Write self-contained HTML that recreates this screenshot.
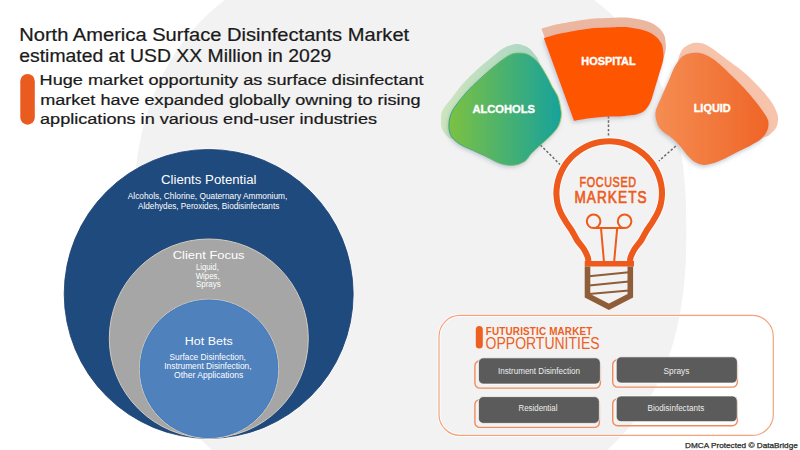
<!DOCTYPE html>
<html><head><meta charset="utf-8"><style>
html,body{margin:0;padding:0;background:#fff;width:800px;height:450px;overflow:hidden}
svg{display:block}
text{font-family:"Liberation Sans", sans-serif}
</style></head><body>
<svg width="800" height="450" viewBox="0 0 800 450" font-family='"Liberation Sans", sans-serif'>
<defs>
<linearGradient id="galc" x1="0" x2="1" y1="0" y2="0"><stop offset="0" stop-color="#7cc142"/><stop offset="1" stop-color="#17a29c"/></linearGradient>
<linearGradient id="galcr" x1="0" x2="1" y1="0" y2="0"><stop offset="0" stop-color="#1c9c8c"/><stop offset="1" stop-color="#a8cf4a"/></linearGradient>
<linearGradient id="galcg" x1="0" x2="1" y1="0" y2="0"><stop offset="0" stop-color="#cde5bd"/><stop offset="1" stop-color="#a9d5c6"/></linearGradient>
<linearGradient id="gliq" x1="0" x2="1" y1="0" y2="0"><stop offset="0" stop-color="#f58d52"/><stop offset="1" stop-color="#ef6527"/></linearGradient>
<filter id="sh" x="-20%" y="-20%" width="140%" height="140%"><feGaussianBlur in="SourceAlpha" stdDeviation="2"/><feOffset dx="-1" dy="2" result="b"/><feFlood flood-color="#7f8fa0" flood-opacity="0.45"/><feComposite in2="b" operator="in"/><feMerge><feMergeNode/><feMergeNode in="SourceGraphic"/></feMerge></filter>
</defs>
<rect width="800" height="450" fill="#ffffff"/>
<path d="M686.3,230.3 L686.2,243.9 L686.0,254.5 L685.6,264.2 L685.0,273.3 L684.3,282.0 L683.5,290.4 L682.4,298.5 L681.3,306.4 L679.9,314.1 L678.4,321.6 L676.8,328.9 L675.0,336.1 L673.1,343.1 L671.0,349.9 L668.7,356.6 L666.3,363.2 L663.7,369.6 L661.0,375.9 L658.2,382.0 L655.2,388.0 L652.0,393.9 L648.7,399.6 L645.2,405.2 L641.7,410.6 L637.9,416.0 L634.0,421.2 L630.0,426.2 L625.9,431.1 L621.6,435.9 L617.1,440.5 L612.5,445.0 L607.8,449.4 L603.0,453.6 L598.0,457.7 L592.9,461.6 L587.6,465.4 L582.2,469.0 L576.7,472.5 L571.0,475.9 L565.2,479.1 L559.3,482.1 L553.2,485.0 L547.0,487.7 L540.7,490.3 L534.2,492.8 L527.6,495.1 L520.9,497.2 L514.0,499.2 L506.9,501.0 L499.7,502.7 L492.3,504.2 L484.7,505.5 L476.9,506.7 L468.9,507.7 L460.6,508.6 L452.0,509.3 L443.0,509.9 L433.4,510.3 L423.0,510.5 L409.5,510.6 L396.0,510.5 L385.6,510.3 L376.0,509.9 L367.0,509.3 L358.4,508.6 L350.1,507.7 L342.1,506.7 L334.3,505.5 L326.7,504.2 L319.3,502.7 L312.1,501.0 L305.0,499.2 L298.1,497.2 L291.4,495.1 L284.8,492.8 L278.3,490.3 L272.0,487.7 L265.8,485.0 L259.7,482.1 L253.8,479.1 L248.0,475.9 L242.3,472.5 L236.8,469.0 L231.4,465.4 L226.1,461.6 L221.0,457.7 L216.0,453.6 L211.2,449.4 L206.5,445.0 L201.9,440.5 L197.4,435.9 L193.1,431.1 L189.0,426.2 L185.0,421.2 L181.1,416.0 L177.3,410.6 L173.8,405.2 L170.3,399.6 L167.0,393.9 L163.8,388.0 L160.8,382.0 L158.0,375.9 L155.3,369.6 L152.7,363.2 L150.3,356.6 L148.0,349.9 L145.9,343.1 L144.0,336.1 L142.2,328.9 L140.6,321.6 L139.1,314.1 L137.7,306.4 L136.6,298.5 L135.5,290.4 L134.7,282.0 L134.0,273.3 L133.4,264.2 L133.0,254.5 L132.8,243.9 L132.7,230.3 L132.8,216.7 L133.0,206.1 L133.4,196.4 L134.0,187.3 L134.7,178.6 L135.5,170.2 L136.6,162.1 L137.7,154.2 L139.1,146.5 L140.6,139.0 L142.2,131.7 L144.0,124.5 L145.9,117.5 L148.0,110.7 L150.3,104.0 L152.7,97.4 L155.3,91.0 L158.0,84.7 L160.8,78.6 L163.8,72.6 L167.0,66.7 L170.3,61.0 L173.8,55.4 L177.3,50.0 L181.1,44.6 L185.0,39.4 L189.0,34.4 L193.1,29.5 L197.4,24.7 L201.9,20.1 L206.5,15.6 L211.2,11.2 L216.0,7.0 L221.0,2.9 L226.1,-1.0 L231.4,-4.8 L236.8,-8.4 L242.3,-11.9 L248.0,-15.3 L253.8,-18.5 L259.7,-21.5 L265.8,-24.4 L272.0,-27.1 L278.3,-29.7 L284.8,-32.2 L291.4,-34.5 L298.1,-36.6 L305.0,-38.6 L312.1,-40.4 L319.3,-42.1 L326.7,-43.6 L334.3,-44.9 L342.1,-46.1 L350.1,-47.1 L358.4,-48.0 L367.0,-48.7 L376.0,-49.3 L385.6,-49.7 L396.0,-49.9 L409.5,-50.0 L423.0,-49.9 L433.4,-49.7 L443.0,-49.3 L452.0,-48.7 L460.6,-48.0 L468.9,-47.1 L476.9,-46.1 L484.7,-44.9 L492.3,-43.6 L499.7,-42.1 L506.9,-40.4 L514.0,-38.6 L520.9,-36.6 L527.6,-34.5 L534.2,-32.2 L540.7,-29.7 L547.0,-27.1 L553.2,-24.4 L559.3,-21.5 L565.2,-18.5 L571.0,-15.3 L576.7,-11.9 L582.2,-8.4 L587.6,-4.8 L592.9,-1.0 L598.0,2.9 L603.0,7.0 L607.8,11.2 L612.5,15.6 L617.1,20.1 L621.6,24.7 L625.9,29.5 L630.0,34.4 L634.0,39.4 L637.9,44.6 L641.7,50.0 L645.2,55.4 L648.7,61.0 L652.0,66.7 L655.2,72.6 L658.2,78.6 L661.0,84.7 L663.7,91.0 L666.3,97.4 L668.7,104.0 L671.0,110.7 L673.1,117.5 L675.0,124.5 L676.8,131.7 L678.4,139.0 L679.9,146.5 L681.3,154.2 L682.4,162.1 L683.5,170.2 L684.3,178.6 L685.0,187.3 L685.6,196.4 L686.0,206.1 L686.2,216.7 Z" fill="#f2f2f2"/>
<circle cx="208.7" cy="293.9" r="145.6" fill="#ffffff"/><circle cx="208.7" cy="293.9" r="144.5" fill="#1f4a7d" stroke="#183f72" stroke-width="0.8"/>
<circle cx="208.8" cy="338.5" r="99.5" fill="#a6a6a6" stroke="#d4cbbd" stroke-width="1"/>
<circle cx="209" cy="368.8" r="69.6" fill="#4f81bd" stroke="#cfc6b6" stroke-width="1"/><circle cx="209" cy="368.8" r="68.7" fill="none" stroke="#3f7cc8" stroke-width="0.8"/>
<rect x="20.3" y="74" width="14.5" height="50.7" rx="7.25" fill="#ea5b1f"/>
<g stroke="#6a6a6a" stroke-width="1.5" stroke-dasharray="2.4,1.9" fill="none">
<line x1="540.4" y1="145" x2="560" y2="164.5"/>
<line x1="608.5" y1="116" x2="608.5" y2="137"/>
<line x1="675.8" y1="146" x2="658.9" y2="161"/>
</g>
<path d="M513.3,44.4 C516.6,43.8 519.4,44.2 522.2,45.0 C525.0,45.8 527.8,47.1 530.0,48.9 C532.2,50.7 534.1,53.4 535.6,55.6 C537.1,57.8 537.9,57.9 539.0,62.0 C540.1,66.1 544.3,71.2 542.0,80.0 C539.7,88.8 533.7,105.8 525.0,115.0 C516.3,124.2 501.5,131.0 490.0,135.0 C478.5,139.0 463.1,138.8 456.0,139.0 C448.9,139.2 449.8,138.2 447.5,136.5 C445.2,134.8 443.1,131.6 442.0,129.0 C440.9,126.4 440.9,124.1 441.0,121.0 C441.1,117.9 440.6,114.5 442.5,110.5 C444.4,106.5 449.2,101.2 452.7,96.7 C456.2,92.2 459.3,87.8 463.3,83.3 C467.3,78.8 472.1,74.2 476.7,70.0 C481.3,65.8 486.9,61.3 491.1,57.8 C495.4,54.3 498.5,51.1 502.2,48.9 C505.9,46.7 510.0,45.0 513.3,44.4 Z" fill="url(#galcg)"/>
<path d="M518.9,53.1 C521.5,53.0 524.3,53.1 526.7,53.9 C529.1,54.7 531.3,56.2 533.3,57.8 C535.3,59.4 537.2,61.3 538.9,63.3 C540.6,65.3 541.8,67.6 543.3,70.0 C544.8,72.4 546.3,75.0 547.8,77.8 C549.3,80.6 550.5,83.6 552.2,86.7 C553.9,89.8 556.4,92.8 557.8,96.3 C559.2,99.8 560.0,104.4 560.6,107.7 C561.2,111.0 561.5,113.2 561.2,116.2 C560.9,119.2 559.9,122.9 558.7,125.6 C557.5,128.3 556.0,129.8 554.0,132.2 C552.0,134.6 548.9,137.4 546.4,139.8 C543.9,142.2 541.4,144.1 538.9,146.4 C536.4,148.7 533.3,151.4 531.3,153.6 C529.3,155.8 528.2,158.2 526.7,159.7 C525.2,161.2 523.7,161.9 522.0,162.7 C520.3,163.5 518.7,164.3 516.7,164.7 C514.7,165.1 512.2,165.4 510.0,165.3 C507.8,165.2 505.5,164.9 503.3,164.3 C501.1,163.8 499.2,163.1 496.7,162.0 C494.1,160.9 491.9,159.4 488.0,157.5 C484.1,155.6 477.6,152.6 473.3,150.6 C469.0,148.6 465.5,147.5 462.2,145.6 C458.9,143.7 455.4,141.3 453.3,138.9 C451.2,136.5 450.1,134.0 449.4,131.1 C448.7,128.2 448.8,124.5 449.1,121.5 C449.4,118.5 450.2,116.0 451.3,113.3 C452.4,110.6 453.4,108.8 456.0,105.3 C458.6,101.8 462.8,96.3 466.7,92.0 C470.6,87.7 475.2,83.3 479.3,79.5 C483.4,75.7 487.3,72.2 491.1,68.9 C494.9,65.7 498.9,62.4 502.2,60.0 C505.5,57.6 508.3,55.5 511.1,54.4 C513.9,53.2 516.3,53.2 518.9,53.1 Z" fill="url(#galc)" filter="url(#sh)"/><path d="M518.9,53.1 C521.5,53.0 524.3,53.1 526.7,53.9 C529.1,54.7 531.3,56.2 533.3,57.8 C535.3,59.4 537.2,61.3 538.9,63.3 C540.6,65.3 541.8,67.6 543.3,70.0 C544.8,72.4 546.3,75.0 547.8,77.8 C549.3,80.6 550.5,83.6 552.2,86.7 C553.9,89.8 556.4,92.8 557.8,96.3 C559.2,99.8 560.0,104.4 560.6,107.7 C561.2,111.0 561.5,113.2 561.2,116.2 C560.9,119.2 559.9,122.9 558.7,125.6 C557.5,128.3 556.0,129.8 554.0,132.2 C552.0,134.6 548.9,137.4 546.4,139.8 C543.9,142.2 541.4,144.1 538.9,146.4 C536.4,148.7 533.3,151.4 531.3,153.6 C529.3,155.8 528.2,158.2 526.7,159.7 C525.2,161.2 523.7,161.9 522.0,162.7 C520.3,163.5 518.7,164.3 516.7,164.7 C514.7,165.1 512.2,165.4 510.0,165.3 C507.8,165.2 505.5,164.9 503.3,164.3 C501.1,163.8 499.2,163.1 496.7,162.0 C494.1,160.9 491.9,159.4 488.0,157.5 C484.1,155.6 477.6,152.6 473.3,150.6 C469.0,148.6 465.5,147.5 462.2,145.6 C458.9,143.7 455.4,141.3 453.3,138.9 C451.2,136.5 450.1,134.0 449.4,131.1 C448.7,128.2 448.8,124.5 449.1,121.5 C449.4,118.5 450.2,116.0 451.3,113.3 C452.4,110.6 453.4,108.8 456.0,105.3 C458.6,101.8 462.8,96.3 466.7,92.0 C470.6,87.7 475.2,83.3 479.3,79.5 C483.4,75.7 487.3,72.2 491.1,68.9 C494.9,65.7 498.9,62.4 502.2,60.0 C505.5,57.6 508.3,55.5 511.1,54.4 C513.9,53.2 516.3,53.2 518.9,53.1 Z" fill="none" stroke="url(#galcr)" stroke-width="0.8"/>
<path d="M541.5,29.1 C542.0,28.9 541.2,28.7 544.2,27.8 C547.3,26.9 552.8,25.2 560.0,23.8 C567.3,22.4 578.5,20.2 587.7,19.2 C597.0,18.2 608.3,18.0 615.5,17.8 C622.7,17.6 625.6,17.4 631.1,18.1 C636.6,18.8 643.9,20.3 648.4,21.8 C653.0,23.3 655.6,25.2 658.1,27.2 C660.7,29.2 662.4,31.6 663.6,33.8 C664.8,36.0 665.1,37.7 665.4,40.5 C665.7,43.3 666.3,46.4 665.6,50.5 C664.9,54.6 662.7,60.2 661.2,65.0 C659.8,69.8 658.1,75.1 656.8,79.4 C655.4,83.7 654.2,88.1 653.0,91.0 C651.9,93.9 651.3,94.9 650.0,96.7 C648.7,98.5 647.3,100.5 645.4,101.8 C643.5,103.1 641.3,104.0 638.7,104.7 C636.1,105.4 632.7,105.7 629.7,106.1 C626.7,106.5 624.1,106.7 620.7,106.9 C617.3,107.1 614.4,106.8 609.2,107.1 C604.0,107.4 595.2,108.1 589.5,108.8 C583.8,109.5 577.7,110.6 574.9,111.1 C572.1,111.5 573.2,111.4 572.8,111.5 Z" fill="#ecb7a0"/>
<path d="M543.9,38.6 C544.3,38.4 543.5,38.2 546.5,37.3 C549.5,36.4 554.7,34.7 561.7,33.3 C568.7,31.9 579.4,29.7 588.3,28.7 C597.2,27.7 608.0,27.5 615.0,27.3 C622.0,27.1 624.7,26.9 630.0,27.6 C635.3,28.3 642.4,29.8 646.7,31.3 C651.0,32.8 653.6,34.7 656.0,36.7 C658.4,38.7 660.1,41.1 661.3,43.3 C662.5,45.5 662.7,47.2 663.0,50.0 C663.3,52.8 663.9,55.9 663.2,60.0 C662.5,64.1 660.4,69.7 659.0,74.5 C657.6,79.3 656.0,84.6 654.7,88.9 C653.4,93.2 652.2,97.6 651.1,100.5 C650.0,103.4 649.4,104.4 648.2,106.2 C647.0,108.0 645.6,110.0 643.8,111.3 C642.0,112.6 639.8,113.5 637.3,114.2 C634.8,114.9 631.6,115.2 628.7,115.6 C625.8,116.0 623.3,116.2 620.0,116.4 C616.7,116.6 614.0,116.3 609.0,116.6 C604.0,116.9 595.5,117.6 590.0,118.3 C584.5,119.0 578.7,120.1 576.0,120.6 C573.3,121.0 574.3,120.9 574.0,121.0 Z" fill="#fe5400" filter="url(#sh)"/>
<path d="M682.0,50.0 C683.7,47.2 685.8,46.2 688.0,45.0 C690.2,43.8 692.5,43.0 695.0,42.8 C697.5,42.5 700.5,42.8 703.0,43.5 C705.5,44.2 707.7,45.6 710.0,47.0 C712.3,48.4 714.5,50.2 717.0,52.0 C719.5,53.8 720.5,54.6 725.0,58.0 C729.5,61.4 738.2,67.5 744.0,72.5 C749.8,77.5 755.4,83.1 760.0,88.0 C764.6,92.9 768.7,97.8 771.5,102.0 C774.3,106.2 775.9,110.0 777.0,113.0 C778.1,116.0 778.1,117.7 778.0,120.0 C777.9,122.3 777.5,124.9 776.5,127.0 C775.5,129.1 773.9,130.8 772.0,132.5 C770.1,134.2 769.5,135.8 765.0,137.0 C760.5,138.2 753.3,139.5 745.0,140.0 C736.7,140.5 724.2,143.3 715.0,140.0 C705.8,136.7 696.5,128.3 690.0,120.0 C683.5,111.7 678.0,99.7 676.0,90.0 C674.0,80.3 677.0,68.7 678.0,62.0 C679.0,55.3 680.3,52.8 682.0,50.0 Z" fill="#f7c4ab"/>
<path d="M692.0,53.0 C694.5,52.7 697.5,52.6 700.0,53.0 C702.5,53.4 704.8,54.5 707.0,55.5 C709.2,56.5 710.8,57.5 713.0,59.0 C715.2,60.5 716.8,61.7 720.0,64.5 C723.2,67.3 728.0,72.1 732.0,76.0 C736.0,79.9 740.0,83.7 744.0,88.0 C748.0,92.3 752.7,97.8 756.0,102.0 C759.3,106.2 762.0,110.0 764.0,113.0 C766.0,116.0 767.3,117.8 768.0,120.0 C768.7,122.2 768.6,124.3 768.3,126.5 C768.0,128.7 767.3,130.8 766.0,133.0 C764.7,135.2 762.9,137.5 760.5,139.5 C758.1,141.5 754.9,143.1 751.5,145.0 C748.1,146.9 744.4,148.6 740.0,150.8 C735.6,153.0 729.8,156.3 725.1,158.4 C720.5,160.5 715.7,162.4 712.1,163.5 C708.5,164.6 706.3,165.2 703.4,164.9 C700.5,164.7 697.4,163.6 694.8,162.0 C692.1,160.4 689.7,157.8 687.5,155.5 C685.3,153.2 683.6,150.5 681.8,148.3 C680.0,146.1 678.6,144.4 676.7,142.5 C674.8,140.6 672.5,138.6 670.2,136.8 C667.9,135.0 665.0,133.6 663.0,131.7 C661.0,129.8 659.1,127.7 657.9,125.2 C656.6,122.7 655.9,118.9 655.5,116.5 C655.1,114.1 655.6,112.3 655.8,110.8 C656.0,109.3 655.8,110.2 656.8,107.7 C657.8,105.2 659.9,100.7 661.9,96.1 C663.9,91.5 667.0,84.7 669.0,80.0 C671.0,75.3 672.2,71.5 674.0,68.0 C675.8,64.5 678.2,61.2 680.0,59.0 C681.8,56.8 683.0,56.0 685.0,55.0 C687.0,54.0 689.5,53.3 692.0,53.0 Z" fill="url(#gliq)" filter="url(#sh)"/>
<!-- bulb -->
<path d="M588.2,266.0 C588.2,264.7 588.7,260.8 588.0,258.0 C587.3,255.2 585.6,252.0 583.8,249.0 C582.0,246.0 579.0,243.1 577.0,240.0 C575.0,236.9 573.7,233.7 571.8,230.6 C569.9,227.5 567.6,224.7 565.8,221.7 C563.9,218.7 562.1,215.8 560.7,212.8 C559.3,209.8 558.3,207.0 557.6,203.9 C556.9,200.8 556.5,197.2 556.4,194.0 C556.3,190.8 556.7,187.8 557.2,184.8 C557.7,181.8 558.5,178.8 559.6,175.9 C560.6,173.1 561.9,170.2 563.5,167.6 C565.0,165.0 566.8,162.4 568.8,160.1 C570.7,157.7 572.9,155.5 575.3,153.6 C577.6,151.6 580.2,149.8 582.8,148.3 C585.4,146.7 588.3,145.4 591.1,144.4 C594.0,143.3 597.0,142.5 600.0,142.0 C603.0,141.5 606.1,141.2 609.2,141.2 C612.3,141.2 615.4,141.5 618.4,142.0 C621.4,142.5 624.4,143.3 627.3,144.4 C630.1,145.4 633.0,146.7 635.6,148.3 C638.2,149.8 640.8,151.6 643.1,153.6 C645.5,155.5 647.7,157.7 649.6,160.1 C651.6,162.4 653.4,165.0 654.9,167.6 C656.5,170.2 657.8,173.1 658.8,175.9 C659.9,178.8 660.7,181.8 661.2,184.8 C661.7,187.8 662.1,190.8 662.0,194.0 C661.9,197.2 661.5,200.8 660.8,203.9 C660.1,207.0 659.1,209.8 657.7,212.8 C656.3,215.8 654.5,218.7 652.6,221.7 C650.8,224.7 648.5,227.5 646.6,230.6 C644.7,233.7 643.4,236.9 641.4,240.0 C639.4,243.1 636.4,246.0 634.6,249.0 C632.8,252.0 631.1,255.2 630.4,258.0 C629.7,260.8 630.2,264.7 630.2,266.0" fill="none" stroke="#ffffff" stroke-width="8" opacity="0.8"/>
<path d="M588.2,266.0 C588.2,264.7 588.7,260.8 588.0,258.0 C587.3,255.2 585.6,252.0 583.8,249.0 C582.0,246.0 579.0,243.1 577.0,240.0 C575.0,236.9 573.7,233.7 571.8,230.6 C569.9,227.5 567.6,224.7 565.8,221.7 C563.9,218.7 562.1,215.8 560.7,212.8 C559.3,209.8 558.3,207.0 557.6,203.9 C556.9,200.8 556.5,197.2 556.4,194.0 C556.3,190.8 556.7,187.8 557.2,184.8 C557.7,181.8 558.5,178.8 559.6,175.9 C560.6,173.1 561.9,170.2 563.5,167.6 C565.0,165.0 566.8,162.4 568.8,160.1 C570.7,157.7 572.9,155.5 575.3,153.6 C577.6,151.6 580.2,149.8 582.8,148.3 C585.4,146.7 588.3,145.4 591.1,144.4 C594.0,143.3 597.0,142.5 600.0,142.0 C603.0,141.5 606.1,141.2 609.2,141.2 C612.3,141.2 615.4,141.5 618.4,142.0 C621.4,142.5 624.4,143.3 627.3,144.4 C630.1,145.4 633.0,146.7 635.6,148.3 C638.2,149.8 640.8,151.6 643.1,153.6 C645.5,155.5 647.7,157.7 649.6,160.1 C651.6,162.4 653.4,165.0 654.9,167.6 C656.5,170.2 657.8,173.1 658.8,175.9 C659.9,178.8 660.7,181.8 661.2,184.8 C661.7,187.8 662.1,190.8 662.0,194.0 C661.9,197.2 661.5,200.8 660.8,203.9 C660.1,207.0 659.1,209.8 657.7,212.8 C656.3,215.8 654.5,218.7 652.6,221.7 C650.8,224.7 648.5,227.5 646.6,230.6 C644.7,233.7 643.4,236.9 641.4,240.0 C639.4,243.1 636.4,246.0 634.6,249.0 C632.8,252.0 631.1,255.2 630.4,258.0 C629.7,260.8 630.2,264.7 630.2,266.0" fill="none" stroke="#ee5a1b" stroke-width="6.1"/>
<line x1="584.7" y1="263.8" x2="634" y2="263.8" stroke="#ee5a1b" stroke-width="5.6"/>
<g fill="none" stroke="#ee5a1b" stroke-width="2">
<circle cx="593.6" cy="221.3" r="6.8"/>
<circle cx="624.6" cy="221.3" r="6.8"/>
<path d="M593.6,228.1 L624.6,228.1 M601,228.1 L603.9,261 M617.2,228.1 L614.2,261"/>
</g>
<path d="M587.5,266.6 L587.5,295.8 L608.9,306.8 L630.3,295.8 L630.3,266.6" fill="none" stroke="#8f5d38" stroke-width="5.6" stroke-linejoin="miter"/>
<g stroke="#8f5d38" stroke-width="2">
<line x1="589" y1="276.3" x2="629" y2="272.2"/>
<line x1="589" y1="285.4" x2="629" y2="281.6"/>
<line x1="589" y1="293.9" x2="629" y2="290.6"/>
</g>
<!-- futuristic box -->
<rect x="439" y="315.4" width="334.3" height="120" rx="21" fill="none" stroke="#ffffff" stroke-width="3.2" opacity="0.8"/><rect x="439" y="315.4" width="334.3" height="120" rx="21" fill="none" stroke="#f4a27c" stroke-width="1.2"/>
<rect x="475.8" y="326" width="7" height="22.5" rx="3.5" fill="#ee5f22"/>
<rect x="474.9" y="360.8" width="125.5" height="27.3" rx="5" fill="none" stroke="#f08b5e" stroke-width="1.4"/><rect x="478.4" y="357.8" width="122" height="26.3" rx="5" fill="#5b5b5b" stroke="#ffffff" stroke-width="0.8"/><rect x="612.7" y="359.8" width="124.7" height="27.3" rx="5" fill="none" stroke="#f08b5e" stroke-width="1.4"/><rect x="616.2" y="356.8" width="121.2" height="26.3" rx="5" fill="#5b5b5b" stroke="#ffffff" stroke-width="0.8"/><rect x="474.9" y="399.6" width="124.5" height="27.8" rx="5" fill="none" stroke="#f08b5e" stroke-width="1.4"/><rect x="478.4" y="396.6" width="121" height="26.8" rx="5" fill="#5b5b5b" stroke="#ffffff" stroke-width="0.8"/><rect x="612.7" y="398.9" width="124.6" height="26.8" rx="5" fill="none" stroke="#f08b5e" stroke-width="1.4"/><rect x="616.2" y="395.9" width="121.1" height="25.8" rx="5" fill="#5b5b5b" stroke="#ffffff" stroke-width="0.8"/>
<text x="19.2" y="41.4" font-size="18.3" fill="#1a1a1a" font-weight="normal" text-anchor="start" textLength="390" lengthAdjust="spacingAndGlyphs" stroke="#1a1a1a" stroke-width="0.22" >North America Surface Disinfectants Market</text><text x="19.3" y="62.2" font-size="18.3" fill="#1a1a1a" font-weight="normal" text-anchor="start" textLength="312" lengthAdjust="spacingAndGlyphs" stroke="#1a1a1a" stroke-width="0.22" >estimated at USD XX Million in 2029</text><text x="39.6" y="85.4" font-size="15.1" fill="#1a1a1a" font-weight="normal" text-anchor="start" textLength="384" lengthAdjust="spacingAndGlyphs" stroke="#1a1a1a" stroke-width="0.22" >Huge market opportunity as surface disinfectant</text><text x="40.2" y="104.5" font-size="15.1" fill="#1a1a1a" font-weight="normal" text-anchor="start" textLength="380.5" lengthAdjust="spacingAndGlyphs" stroke="#1a1a1a" stroke-width="0.22" >market have expanded globally owning to rising</text><text x="40.0" y="123.5" font-size="15.1" fill="#1a1a1a" font-weight="normal" text-anchor="start" textLength="337" lengthAdjust="spacingAndGlyphs" stroke="#1a1a1a" stroke-width="0.22" >applications in various end-user industries</text><text x="161" y="184" font-size="12" fill="#ffffff" font-weight="normal" text-anchor="start" textLength="95.5" lengthAdjust="spacingAndGlyphs" >Clients Potential</text><text x="127.8" y="199.4" font-size="8.2" fill="#ffffff" font-weight="normal" text-anchor="start" textLength="159.5" lengthAdjust="spacingAndGlyphs" >Alcohols, Chlorine, Quaternary Ammonium,</text><text x="138" y="208.5" font-size="8.2" fill="#ffffff" font-weight="normal" text-anchor="start" textLength="141.3" lengthAdjust="spacingAndGlyphs" >Aldehydes, Peroxides, Biodisinfectants</text><text x="172.8" y="259.4" font-size="11.3" fill="#ffffff" font-weight="normal" text-anchor="start" textLength="71.8" lengthAdjust="spacingAndGlyphs" >Client Focus</text><text x="195.9" y="270" font-size="8.3" fill="#ffffff" font-weight="normal" text-anchor="start" textLength="22.9" lengthAdjust="spacingAndGlyphs" >Liquid,</text><text x="195.7" y="278.6" font-size="8.3" fill="#ffffff" font-weight="normal" text-anchor="start" textLength="24" lengthAdjust="spacingAndGlyphs" >Wipes,</text><text x="195.9" y="287.3" font-size="8.3" fill="#ffffff" font-weight="normal" text-anchor="start" textLength="24.8" lengthAdjust="spacingAndGlyphs" >Sprays</text><text x="184.8" y="345" font-size="11.7" fill="#ffffff" font-weight="normal" text-anchor="start" textLength="47.9" lengthAdjust="spacingAndGlyphs" >Hot Bets</text><text x="169.5" y="360.2" font-size="8.2" fill="#ffffff" font-weight="normal" text-anchor="start" textLength="76.4" lengthAdjust="spacingAndGlyphs" >Surface Disinfection,</text><text x="164.3" y="368.8" font-size="8.2" fill="#ffffff" font-weight="normal" text-anchor="start" textLength="87.2" lengthAdjust="spacingAndGlyphs" >Instrument Disinfection,</text><text x="174" y="377.6" font-size="8.2" fill="#ffffff" font-weight="normal" text-anchor="start" textLength="69.2" lengthAdjust="spacingAndGlyphs" >Other Applications</text><text x="472.4" y="113.3" font-size="11.6" fill="#ffffff" font-weight="bold" text-anchor="start" textLength="62.6" lengthAdjust="spacingAndGlyphs" stroke="#ffffff" stroke-width="0.35" >ALCOHOLS</text><text x="581.3" y="64.7" font-size="10.3" fill="#ffffff" font-weight="bold" text-anchor="start" textLength="54.3" lengthAdjust="spacingAndGlyphs" stroke="#ffffff" stroke-width="0.35" >HOSPITAL</text><text x="693.7" y="112" font-size="10.5" fill="#ffffff" font-weight="bold" text-anchor="start" textLength="37.1" lengthAdjust="spacingAndGlyphs" stroke="#ffffff" stroke-width="0.35" >LIQUID</text><text transform="translate(579.6,186.5) scale(1,1.35)" x="0" y="0" font-size="10.8" fill="#ee5a1b" font-weight="normal" text-anchor="start" textLength="56.4" lengthAdjust="spacing" stroke="#ee5a1b" stroke-width="0.45" >FOCUSED</text><text transform="translate(574.4,203.2) scale(1,1.22)" x="0" y="0" font-size="13.6" fill="#ee5a1b" font-weight="normal" text-anchor="start" textLength="72.2" lengthAdjust="spacing" stroke="#ee5a1b" stroke-width="0.55" >MARKETS</text><text transform="translate(485.8,335.3) scale(1,1.1)" x="0" y="0" font-size="9.9" fill="#ee5f22" font-weight="bold" text-anchor="start" textLength="106.5" lengthAdjust="spacing" >FUTURISTIC MARKET</text><text x="485.6" y="348.5" font-size="16" fill="#ee5f22" font-weight="normal" text-anchor="start" textLength="114" lengthAdjust="spacingAndGlyphs" >OPPORTUNITIES</text><text x="539" y="373.6" font-size="8.3" fill="#eeeeee" font-weight="normal" text-anchor="middle" textLength="82" lengthAdjust="spacingAndGlyphs" >Instrument Disinfection</text><text x="676.5" y="373.6" font-size="8.3" fill="#eeeeee" font-weight="normal" text-anchor="middle" >Sprays</text><text x="538" y="411.2" font-size="8.3" fill="#eeeeee" font-weight="normal" text-anchor="middle" textLength="38.8" lengthAdjust="spacingAndGlyphs" >Residential</text><text x="647.6" y="411.2" font-size="8.3" fill="#eeeeee" font-weight="normal" text-anchor="start" textLength="56.6" lengthAdjust="spacingAndGlyphs" >Biodisinfectants</text><text x="685" y="447.7" font-size="7.6" fill="#2a2a2a" font-weight="normal" text-anchor="start" textLength="112.8" lengthAdjust="spacingAndGlyphs" stroke="#2a2a2a" stroke-width="0.25" >DMCA Protected © DataBridge</text>
</svg>
</body></html>
